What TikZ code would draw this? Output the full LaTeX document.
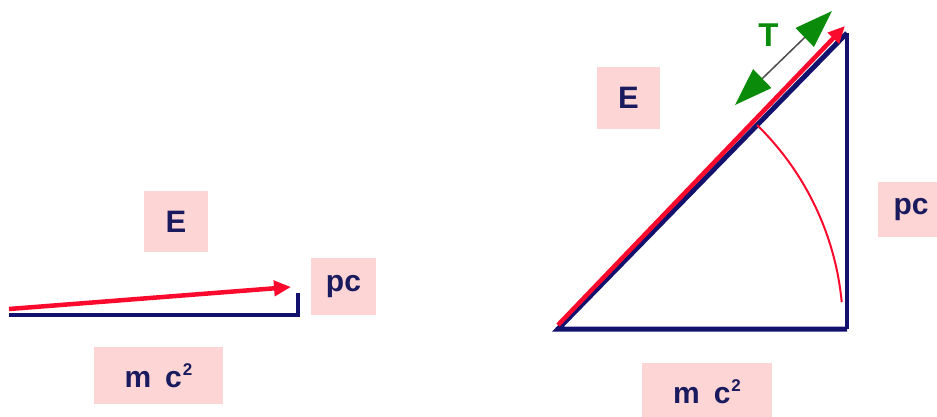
\documentclass[tikz,border=0pt]{standalone}
\usepackage{fontspec}
\setmainfont{Liberation Sans}
\usetikzlibrary{arrows.meta}
\definecolor{navy}{HTML}{12126E}
\definecolor{txtnavy}{HTML}{1A1A5E}
\definecolor{pinkbox}{HTML}{FDD5D5}
\definecolor{vecred}{HTML}{FA0A2D}
\definecolor{tgreen}{HTML}{0A8C0A}
\newcommand{\mcsq}{m\hspace{14pt}c\hspace{1pt}\raisebox{12pt}{\fontsize{17}{18}\selectfont 2}}
\begin{document}
\begin{tikzpicture}[x=1pt,y=-1pt,
  lbl/.style={fill=pinkbox, text=txtnavy, font=\fontsize{30}{32}\selectfont\bfseries, inner sep=0pt},
  bigl/.style={font=\fontsize{31}{33}\selectfont\bfseries},
  side/.style={draw=navy, line width=4.5pt},
  vec/.style={draw=vecred, line width=4.5pt, -{Triangle[length=17pt,width=15pt]}},
  tarrow/.style={draw=gray!60!black, line width=1.5pt,
     {Triangle[length=38pt,width=26pt,color=tgreen]}-{Triangle[length=38pt,width=26pt,color=tgreen]}},
]
\useasboundingbox (0,0) rectangle (937,416);
\fill[white] (0,0) rectangle (937,416);

% label boxes
\node[lbl, bigl, minimum width=64pt, minimum height=61pt] (E1) at (176,221.5) {E};
\node[lbl, minimum width=65pt, minimum height=57pt] (pc1) at (343.5,286.5) {pc};
\node[lbl, minimum width=129pt, minimum height=57pt] (mc1) at (158.5,375.5) {\mcsq};
\node[lbl, bigl, minimum width=63pt, minimum height=62pt] (E2) at (628.5,98) {E};
\node[lbl, minimum width=66pt, minimum height=55pt] (pc2) at (911,209.5) {pc};
\node[lbl, minimum width=130pt, minimum height=57pt] (mc2) at (707,391.5) {\mcsq};

% left figure
\coordinate (L0) at (9,315);
\coordinate (L1) at (298,315);
\coordinate (L2) at (298,293);
\draw[side, line width=4pt] (L0) -- (L1) -- (L2);
\coordinate (LR0) at (9,309);
\coordinate (LR1) at (291,287);
\draw[vec] (LR0) -- (LR1);

% right figure
\coordinate (A) at (558,329);
\coordinate (B) at (847,329);
\coordinate (C) at (847,33);
\draw[side, line width=5pt] (C) -- (A) -- (B);
\draw[side, line width=4pt] (B) -- (C);
\coordinate (RA) at (558,325);
\coordinate (RB) at (845,26);
\draw[vec] (RA) -- (RB);
\draw[vecred, line width=2pt] ([shift={(-45.7:285)}]A) arc[start angle=-45.7, end angle=-5.4, radius=285];

% T arrow
\coordinate (T0) at (735,105);
\coordinate (T1) at (832,11);
\draw[tarrow] (T0) -- (T1);
\node[text=tgreen, font=\fontsize{33}{35}\selectfont\bfseries, inner sep=0pt] (T) at (768.5,35) {T};
\end{tikzpicture}
\end{document}
